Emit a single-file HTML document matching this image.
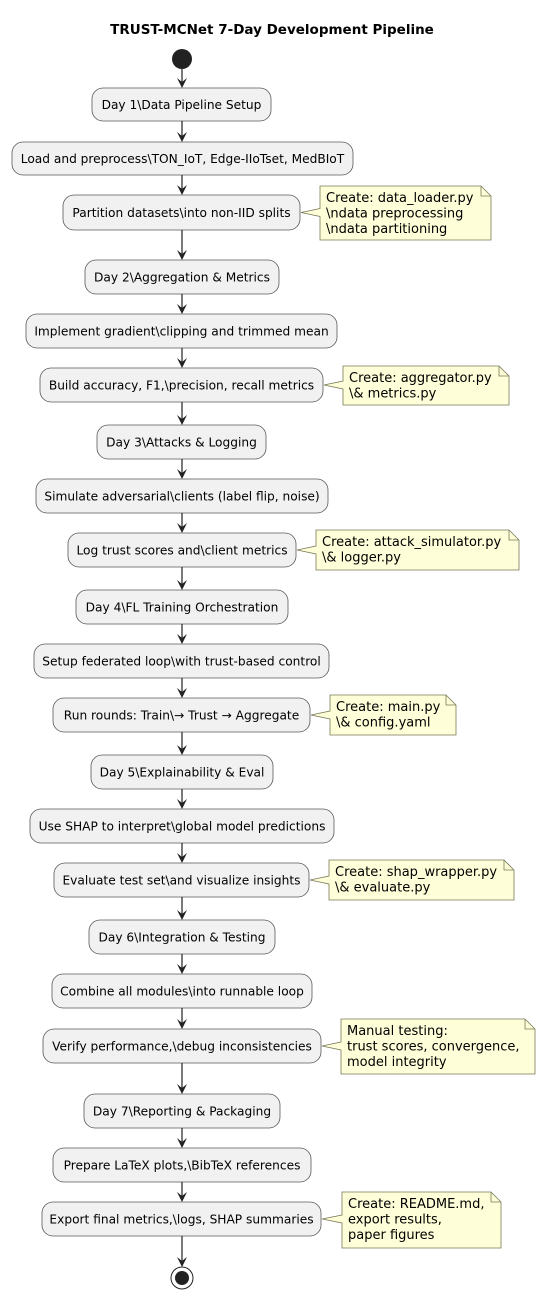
<!DOCTYPE html>
<html><head><meta charset="utf-8"><style>
html,body{margin:0;padding:0;background:#fff;}
svg{display:block;}
text{font-family:"DejaVu Sans","Liberation Sans",sans-serif;fill:#000;}
</style></head><body>
<svg width="545" height="1299" viewBox="0 0 545 1299" xmlns="http://www.w3.org/2000/svg">
<text x="272" y="34" text-anchor="middle" font-size="13.5" font-weight="bold">TRUST-MCNet 7-Day Development Pipeline</text>
<circle cx="182" cy="59" r="10" fill="#222"/>
<g id="boxes" fill="#f1f1f1" stroke="#5a5a5a" stroke-width="0.8"></g>
<g id="notes"></g>
<g id="arrows"></g>
<circle cx="182" cy="1278" r="11" fill="none" stroke="#222" stroke-width="1"/>
<circle cx="182" cy="1278" r="7" fill="#222"/>
<script>
var B=[
[92,271,88,121,"Day 1\\Data Pipeline Setup"],
[12,353,142,175,"Load and preprocess\\TON_IoT, Edge-IIoTset, MedBIoT"],
[63,300,195,230,"Partition datasets\\into non-IID splits",[320,491,186,240,["Create: data_loader.py","\\ndata preprocessing","\\ndata partitioning"]]],
[85,279,260,294,"Day 2\\Aggregation & Metrics"],
[26,337,314,348,"Implement gradient\\clipping and trimmed mean"],
[40,323,368,402,"Build accuracy, F1,\\precision, recall metrics",[343,509,366,405,["Create: aggregator.py","\\& metrics.py"]]],
[97,266,425,459,"Day 3\\Attacks & Logging"],
[36,328,479,513,"Simulate adversarial\\clients (label flip, noise)"],
[68,296,533,567,"Log trust scores and\\client metrics",[316,519,530,570,["Create: attack_simulator.py","\\& logger.py"]]],
[76,288,590,624,"Day 4\\FL Training Orchestration"],
[34,329,644,678,"Setup federated loop\\with trust-based control"],
[53,310,698,732,"Run rounds: Train\\\u2192 Trust \u2192 Aggregate",[330,456,695,735,["Create: main.py","\\& config.yaml"]]],
[91,273,755,789,"Day 5\\Explainability & Eval"],
[30,334,809,843,"Use SHAP to interpret\\global model predictions"],
[54,309,863,897,"Evaluate test set\\and visualize insights",[329,514,860,900,["Create: shap_wrapper.py","\\& evaluate.py"]]],
[89,275,920,954,"Day 6\\Integration & Testing"],
[52,312,974,1008,"Combine all modules\\into runnable loop"],
[43,321,1029,1063,"Verify performance,\\debug inconsistencies",[341,535,1019,1074,["Manual testing:","trust scores, convergence,","model integrity"]]],
[84,280,1094,1128,"Day 7\\Reporting & Packaging"],
[53,311,1148,1182,"Prepare LaTeX plots,\\BibTeX references"],
[42,321,1202,1236,"Export final metrics,\\logs, SHAP summaries",[342,501,1192,1248,["Create: README.md,","export results,","paper figures"]]]
];
var NS="http://www.w3.org/2000/svg";
var svg=document.querySelector("svg");
function el(n,a,p,t){var e=document.createElementNS(NS,n);for(var k in a)e.setAttribute(k,a[k]);if(t!=null)e.textContent=t;(p||svg).appendChild(e);return e;}
var gb=document.getElementById("boxes"),gn=document.getElementById("notes"),ga=document.getElementById("arrows");
function arrow(y0,y1){el("line",{x1:182,y1:y0,x2:182,y2:y1-2,stroke:"#222","stroke-width":1.2},ga);
el("polygon",{points:"182,"+y1+" 177,"+(y1-10)+" 182,"+(y1-6)+" 187,"+(y1-10),fill:"#222"},ga);}
var prev=69;
B.forEach(function(b){
 arrow(prev,b[2]);
 el("rect",{x:b[0],y:b[2],width:b[1]-b[0],height:b[3]-b[2],rx:11,ry:11},gb);
 el("text",{x:(b[0]+b[1])/2,y:(b[2]+b[3])/2+4.5,"text-anchor":"middle","font-size":"12.2"},null,b[4]);
 if(b[5]){var n=b[5],cy=(b[2]+b[3])/2,x0=n[0],x1=n[1],y0=n[2],y1=n[3];
  var d="M"+x0+","+y0+" L"+(x1-10)+","+y0+" L"+x1+","+(y0+10)+" L"+x1+","+y1+" L"+x0+","+y1+" L"+x0+","+(cy+4)+" L"+(b[1]+1)+","+cy+" L"+x0+","+(cy-4)+" Z";
  el("path",{d:d,fill:"#fefed8",stroke:"#7a7a5a","stroke-width":0.8},gn);
  el("path",{d:"M"+(x1-10)+","+y0+" L"+(x1-10)+","+(y0+10)+" L"+x1+","+(y0+10),fill:"none",stroke:"#7a7a5a","stroke-width":0.8},gn);
  n[4].forEach(function(t,i){el("text",{x:x0+6,y:y0+16+i*15.5,"font-size":"13"},gn,t);});
 }
 prev=b[3];
});
arrow(prev,1267);
</script>
</svg>
</body></html>
